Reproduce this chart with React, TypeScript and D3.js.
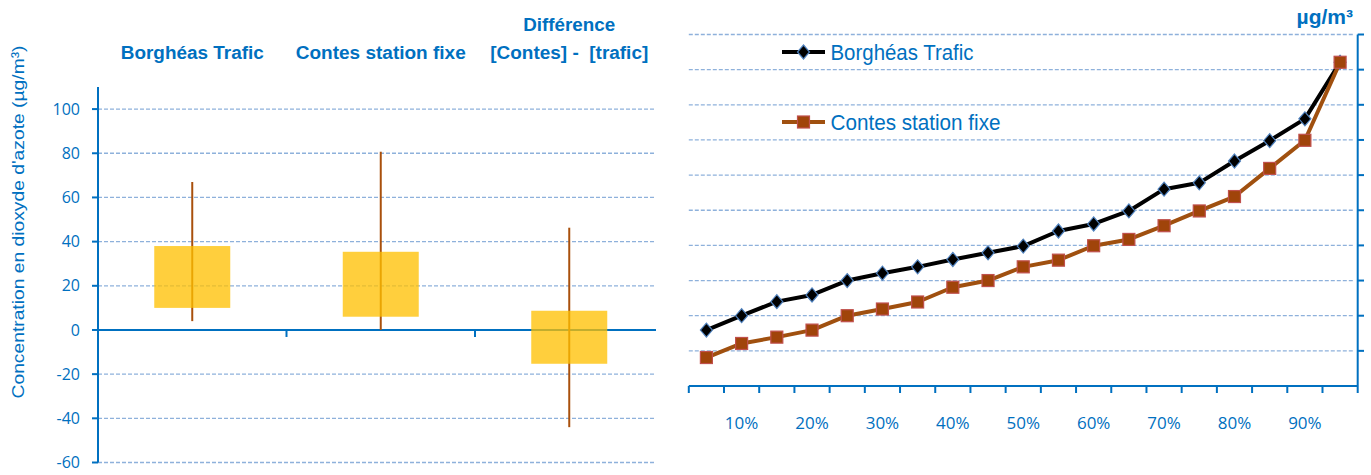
import React from "react";
import * as d3 from "d3";

// ---------- Left chart data ----------
const leftCategories = ["Borghéas Trafic", "Contes station fixe", "Différence"];
const leftHeaders: string[][] = [["Borghéas Trafic"], ["Contes station fixe"], ["Différence", "[Contes] -\u00a0 [trafic]"]];
const boxLow = [10, 6, -15.3];
const boxHigh = [38, 35.4, 8.7];
const whiskerMin = [4, 0, -44];
const whiskerMax = [67, 80.7, 46.3];
const leftTicks = [100, 80, 60, 40, 20, 0, -20, -40, -60];

// ---------- Right chart data ----------
const percentiles = ["5%", "10%", "15%", "20%", "25%", "30%", "35%", "40%", "45%", "50%", "55%", "60%", "65%", "70%", "75%", "80%", "85%", "90%", "95%"];
const shownLabels = ["10%", "20%", "30%", "40%", "50%", "60%", "70%", "80%", "90%"];
const borgheas = [15.9, 20.0, 24.0, 25.9, 30.0, 32.1, 33.9, 36.0, 37.9, 39.8, 44.1, 46.1, 49.8, 56.0, 57.8, 64.0, 69.8, 76.0, 92.1];
const contes = [8.1, 12.1, 13.9, 15.9, 20.0, 21.9, 23.9, 28.1, 30.0, 33.9, 35.8, 39.9, 41.7, 45.6, 49.8, 53.9, 61.9, 69.9, 92.1];
const rightGrid = [10, 20, 30, 40, 50, 60, 70, 80, 90, 100];
const seriesNames = ["Borghéas Trafic", "Contes station fixe"];

const BLUE = "#0070C0";
const GRID = "#8EB1DB";
const TICKFONT = "'Open Sans', 'DejaVu Sans', sans-serif";

export default function App() {
  // Left scales
  const yL = d3.scaleLinear().domain([-60, 110]).range([462.5, 87]);
  const xL = d3.scaleBand().domain(leftCategories).range([98, 663.5]);
  const barW = 76;
  const headerWidths: number[][] = [[143], [170], [92, 158]];

  // Right scales
  const xR = d3.scaleBand().domain(percentiles).range([688.8, 1357.7]);
  const yR = d3.scaleLinear().domain([0, 100]).range([386, 34.5]);
  const line = d3
    .line<number>()
    .x((_, i) => (xR(percentiles[i]) as number) + xR.bandwidth() / 2)
    .y((d) => yR(d));

  const diamond = (cx: number, cy: number, w = 6, h = 7) =>
    `M${cx},${cy - h}L${cx + w},${cy}L${cx},${cy + h}L${cx - w},${cy}Z`;

  return (
    <svg width={1371} height={475} style={{ position: "absolute", left: 0, top: 0 }}>
      <rect x={0} y={0} width={1371} height={475} fill="#fff" />

      {/* ===== LEFT CHART ===== */}
      {leftTicks.filter((t) => t !== 0).map((t) => (
        <line key={"lg" + t} x1={98} x2={656} y1={yL(t)} y2={yL(t)} stroke={GRID} strokeWidth={1.3} strokeDasharray="4,2" />
      ))}
      {/* y axis */}
      <line x1={98} x2={98} y1={87} y2={yL(-60)} stroke={BLUE} strokeWidth={2} />
      {leftTicks.map((t) => (
        <g key={"lt" + t}>
          <line x1={92} x2={98} y1={yL(t)} y2={yL(t)} stroke={BLUE} strokeWidth={2} />
          <text x={80} y={yL(t)} dy="0.35em" textAnchor="end" fill={BLUE} fontSize={16} fontFamily={TICKFONT}>
            {t}
          </text>
        </g>
      ))}
      {/* x axis at 0 */}
      <line x1={98} x2={656} y1={yL(0)} y2={yL(0)} stroke={BLUE} strokeWidth={2} />
      {leftCategories.slice(1).map((c) => (
        <line key={"xt" + c} x1={xL(c) as number} x2={xL(c) as number} y1={yL(0)} y2={yL(0) + 7} stroke={BLUE} strokeWidth={2} />
      ))}
      {/* whiskers then boxes */}
      {leftCategories.map((c, i) => {
        const cx = (xL(c) as number) + xL.bandwidth() / 2;
        return (
          <g key={"bx" + c}>
            <line x1={cx} x2={cx} y1={yL(whiskerMax[i])} y2={yL(whiskerMin[i])} stroke="#A9500C" strokeWidth={2} />
            <rect x={cx - barW / 2} y={yL(boxHigh[i])} width={barW} height={yL(boxLow[i]) - yL(boxHigh[i])} fill="#FFC000" fillOpacity={0.76} />
          </g>
        );
      })}
      {/* headers */}
      {leftCategories.map((c, i) => {
        const cx = (xL(c) as number) + xL.bandwidth() / 2;
        const lines = leftHeaders[i];
        const baseY = lines.length === 1 ? 59 : 31;
        return (
          <text key={"h" + c} fill={BLUE} fontSize={18} fontWeight="bold" fontFamily="'Liberation Sans', Arial, sans-serif" textAnchor="middle">
            {lines.map((l, j) => (
              <tspan key={j} x={cx} y={baseY + j * 28} textLength={headerWidths[i][j]} lengthAdjust="spacingAndGlyphs">
                {l}
              </tspan>
            ))}
          </text>
        );
      })}
      {/* y title */}
      <text
        transform={`translate(24,${222}) rotate(-90)`}
        textAnchor="middle"
        fill={BLUE}
        fontSize={17}
        fontFamily="'Liberation Sans', Arial, sans-serif"
        textLength={353}
        lengthAdjust="spacingAndGlyphs"
      >
        Concentration en dioxyde d'azote (µg/m³)
      </text>

      {/* ===== RIGHT CHART ===== */}
      {rightGrid.map((g) => (
        <line key={"rg" + g} x1={688.8} x2={1353} y1={yR(g)} y2={yR(g)} stroke={GRID} strokeWidth={1.3} strokeDasharray="4,2" />
      ))}
      {/* right axis */}
      <line x1={1357.7} x2={1357.7} y1={yR(100)} y2={yR(0)} stroke={BLUE} strokeWidth={2} />
      {rightGrid.map((g) => (
        <line key={"rt" + g} x1={1357.7} x2={1364} y1={yR(g)} y2={yR(g)} stroke={BLUE} strokeWidth={2} />
      ))}
      {/* x axis */}
      <line x1={688.8} x2={1357.7} y1={yR(0)} y2={yR(0)} stroke={BLUE} strokeWidth={2} />
      {percentiles.map((p) => (
        <line key={"xtr" + p} x1={xR(p) as number} x2={xR(p) as number} y1={yR(0)} y2={yR(0) + 7} stroke={BLUE} strokeWidth={2} />
      ))}
      <line x1={1357.7} x2={1357.7} y1={yR(0)} y2={yR(0) + 7} stroke={BLUE} strokeWidth={2} />
      {percentiles.map((p) =>
        shownLabels.includes(p) ? (
          <text key={"xl" + p} x={(xR(p) as number) + xR.bandwidth() / 2} y={429} textAnchor="middle" fill={BLUE} fontSize={17} fontFamily={TICKFONT}>
            {p}
          </text>
        ) : null
      )}
      {/* series */}
      <path d={line(borgheas) as string} fill="none" stroke="#000" strokeWidth={4} strokeLinejoin="round" />
      <path d={line(contes) as string} fill="none" stroke="#A0500F" strokeWidth={4} strokeLinejoin="round" />
      {borgheas.map((v, i) => (
        <path key={"bm" + i} d={diamond((xR(percentiles[i]) as number) + xR.bandwidth() / 2, yR(v))} fill="#000" stroke="#4F81BD" strokeWidth={1.2} />
      ))}
      {contes.map((v, i) => {
        const cx = (xR(percentiles[i]) as number) + xR.bandwidth() / 2;
        return <rect key={"cm" + i} x={cx - 6} y={yR(v) - 6} width={12} height={12} fill="#A0440A" stroke="#C0504D" strokeWidth={1.2} />;
      })}
      {/* legend */}
      <line x1={782} x2={825} y1={52} y2={52} stroke="#000" strokeWidth={4} />
      <path d={diamond(803.5, 52)} fill="#000" stroke="#4F81BD" strokeWidth={1.2} />
      <text x={830.5} y={60} fill={BLUE} fontSize={22} fontFamily="'Liberation Sans', Arial, sans-serif" textLength={143} lengthAdjust="spacingAndGlyphs">
        {seriesNames[0]}
      </text>
      <line x1={782} x2={825} y1={122} y2={122} stroke="#A0500F" strokeWidth={4} />
      <rect x={797.5} y={116} width={12} height={12} fill="#A0440A" stroke="#C0504D" strokeWidth={1.2} />
      <text x={830.5} y={130} fill={BLUE} fontSize={22} fontFamily="'Liberation Sans', Arial, sans-serif" textLength={170} lengthAdjust="spacingAndGlyphs">
        {seriesNames[1]}
      </text>
      {/* unit */}
      <text x={1353} y={24} textAnchor="end" fill={BLUE} fontSize={21} fontWeight="bold" fontFamily="'Liberation Sans', Arial, sans-serif">
        µg/m³
      </text>
    </svg>
  );
}
